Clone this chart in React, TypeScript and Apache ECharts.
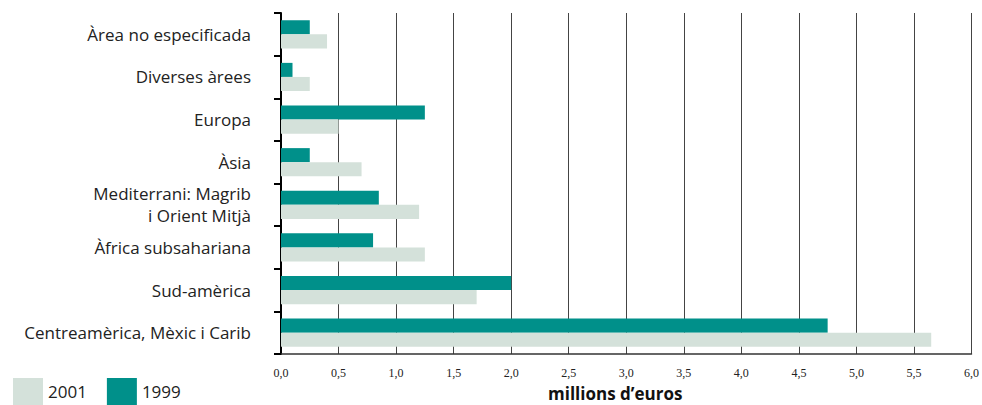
import React, { useEffect, useRef } from "react";
import * as echarts from "echarts";

const categories = [
  "Àrea no especificada",
  "Diverses àrees",
  "Europa",
  "Àsia",
  "Mediterrani: Magrib\ni Orient Mitjà",
  "Àfrica subsahariana",
  "Sud-amèrica",
  "Centreamèrica, Mèxic i Carib",
];
const values1999 = [0.25, 0.1, 1.25, 0.25, 0.85, 0.8, 2.0, 4.75];
const values2001 = [0.4, 0.25, 0.5, 0.7, 1.2, 1.25, 1.7, 5.65];
const axisName = "millions d’euros";

export default function App() {
  const ref = useRef<HTMLDivElement>(null);
  useEffect(() => {
    if (!ref.current) return;
    document.body.style.margin = "0";
    document.body.style.overflow = "hidden";
    const chart = echarts.init(ref.current, null, { renderer: "svg" });
    chart.setOption({
      animation: false,
      grid: { left: 281, right: 9, top: 13, bottom: 51, containLabel: false },
      legend: {
        data: ["2001", "1999"],
        left: 13,
        top: 378,
        padding: 0,
        itemWidth: 30,
        itemHeight: 27,
        itemGap: 20,
        icon: "rect",
        textStyle: { fontFamily: "Open Sans", fontSize: 17, color: "#222" },
      },
      xAxis: {
        type: "value",
        min: 0,
        max: 6,
        interval: 0.5,
        axisLine: { show: true, lineStyle: { color: "#333", width: 1.5 } },
        axisTick: { show: false },
        splitLine: { show: true, lineStyle: { color: "#444", width: 1 } },
        axisLabel: {
          margin: 13,
          fontFamily: "Liberation Serif",
          fontSize: 12,
          color: "#222",
          formatter: (v: number) => v.toFixed(1).replace(".", ","),
        },
      },
      yAxis: {
        type: "category",
        data: categories,
        inverse: true,
        axisLine: { show: true, lineStyle: { color: "#000", width: 2 } },
        axisTick: { show: true, length: 7, lineStyle: { color: "#000", width: 2 } },
        splitLine: { show: false },
        axisLabel: {
          margin: 30,
          fontFamily: "Open Sans",
          fontSize: 17,
          color: "#222",
          lineHeight: 22,
          align: "right",
        },
      },
      graphic: [
        {
          type: "text",
          left: 548,
          top: 385,
          style: {
            text: axisName,
            fontFamily: "Open Sans",
            fontSize: 17,
            fontWeight: "bold",
            fill: "#111",
          },
        },
      ],
      series: [
        {
          name: "1999",
          type: "bar",
          data: values1999,
          itemStyle: { color: "#00908A" },
          barGap: "0%",
          barCategoryGap: "34%",
        },
        {
          name: "2001",
          type: "bar",
          data: values2001,
          itemStyle: { color: "#D4E1DA" },
          barGap: "0%",
          barCategoryGap: "34%",
        },
      ],
    });
    return () => chart.dispose();
  }, []);
  return (
    <div
      ref={ref}
      style={{ position: "absolute", left: 0, top: 0, width: 982, height: 405 }}
    />
  );
}
